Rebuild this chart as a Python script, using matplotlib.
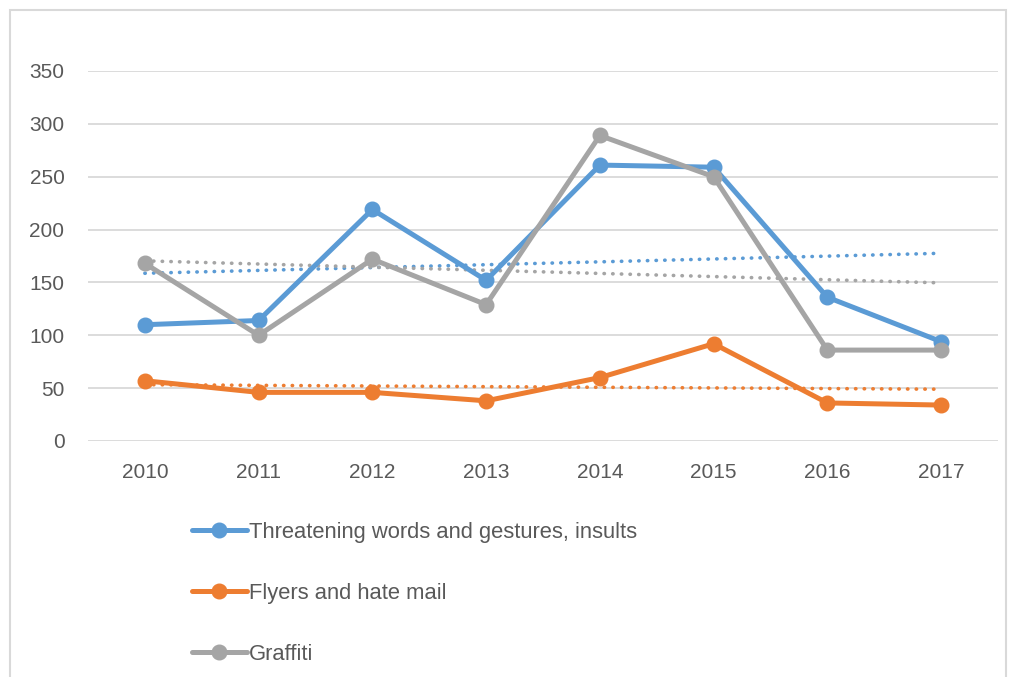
import numpy as np
import matplotlib
matplotlib.use("Agg")
import matplotlib.pyplot as plt
from matplotlib.patches import Rectangle

plt.rcParams['font.family'] = ['Liberation Sans', 'DejaVu Sans']

years = ['2010', '2011', '2012', '2013', '2014', '2015', '2016', '2017']
threats = [110, 114, 219, 152, 261, 259, 136, 94]
flyers = [57, 46, 46, 38, 60, 92, 36, 34]
graffiti = [168, 100, 172, 129, 289, 250, 86, 86]

labels = ['Threatening words and gestures, insults', 'Flyers and hate mail', 'Graffiti']
colors = ['#5B9BD5', '#ED7D31', '#A5A5A5']
text_col = '#595959'

fig = plt.figure(figsize=(10.12, 6.77), dpi=100)
fig.patches.append(Rectangle((10 / 1012, -0.01), 996 / 1012, 1 - 10 / 677 + 0.01,
                             transform=fig.transFigure, fill=False,
                             edgecolor='#D9D9D9', lw=1.5))

ax = fig.add_axes([88 / 1012, 1 - 441 / 677, 910 / 1012, 370 / 677])
x = np.arange(len(years))

handles = []
for vals, lab, c in zip([threats, flyers, graffiti], labels, colors):
    h, = ax.plot(x, vals, color=c, lw=3.6, marker='o', markersize=10.5,
                 solid_joinstyle='round', solid_capstyle='round', label=lab, zorder=3)
    handles.append(h)
    # linear trendline
    k, b = np.polyfit(x, vals, 1)
    ax.plot(x, k * x + b, color=c, lw=2.6, linestyle=(0, (0.1, 2.3)),
            dash_capstyle='round', zorder=2)

ax.set_xlim(-0.5, len(years) - 0.5)
ax.set_ylim(0, 350)
ax.set_yticks(range(0, 351, 50))
ax.set_xticks(x)
ax.set_xticklabels(years)
ax.grid(axis='y', color='#D9D9D9', lw=1.3)
ax.set_axisbelow(True)
for s in ax.spines.values():
    s.set_visible(False)
ax.tick_params(length=0, colors=text_col, labelsize=15)
ax.tick_params(axis='y', pad=17)
ax.tick_params(axis='x', pad=16)

fig.legend(handles=handles, loc='upper left', bbox_to_anchor=(183 / 1012, 1 - 513 / 677),
           frameon=False, fontsize=15.8, labelcolor=text_col, handlelength=2.5,
           handletextpad=0.1, labelspacing=1.82, borderaxespad=0)

fig.savefig('out.png', dpi=100)
